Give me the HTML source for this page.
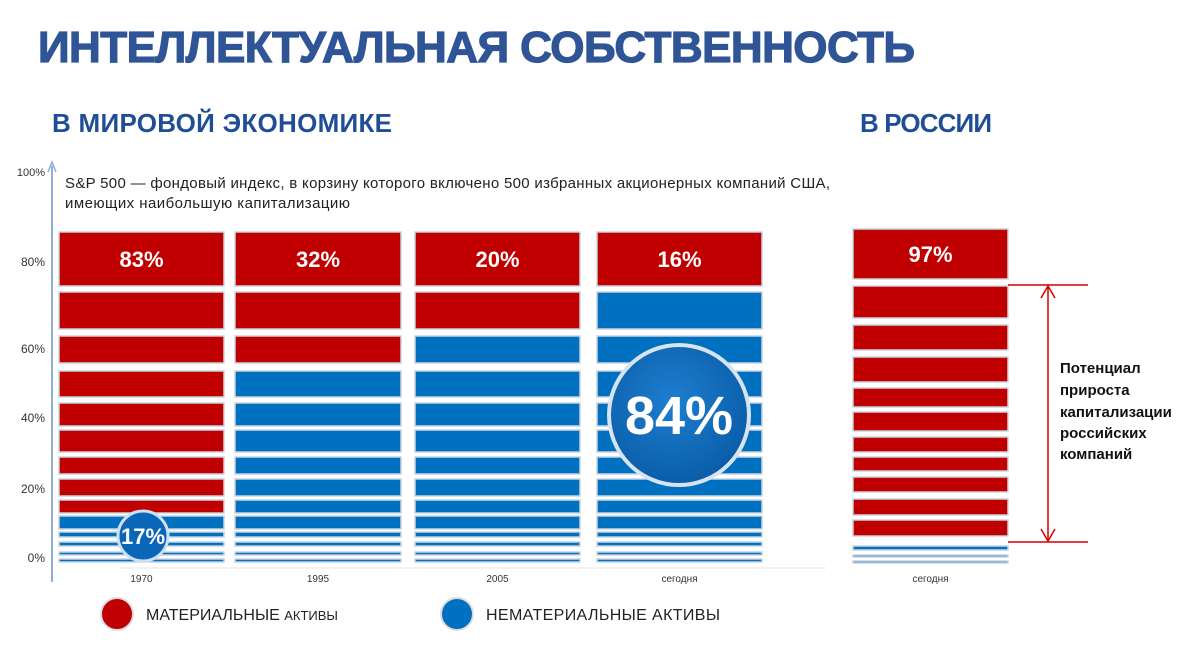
<!DOCTYPE html>
<html><head><meta charset="utf-8"><style>
body{margin:0;width:1200px;height:654px;background:#fff;overflow:hidden;font-family:"Liberation Sans","DejaVu Sans",sans-serif}
svg text{font-family:"Liberation Sans","DejaVu Sans",sans-serif}
</style></head><body>
<svg id="c" width="1200" height="654" xmlns="http://www.w3.org/2000/svg">
<defs>
<radialGradient id="bg84" cx="45%" cy="40%" r="60%"><stop offset="0" stop-color="#1e7fd0"/><stop offset="1" stop-color="#0a5da8"/></radialGradient>
</defs>
<text x="38" y="62" font-size="44" font-weight="bold" fill="#2f5597" stroke="#2f5597" stroke-width="1.2" letter-spacing="1" textLength="878">ИНТЕЛЛЕКТУАЛЬНАЯ СОБСТВЕННОСТЬ</text>
<text x="52" y="132" font-size="26" font-weight="bold" fill="#1f4e96" textLength="340">В МИРОВОЙ ЭКОНОМИКЕ</text>
<text x="860" y="132" font-size="26" font-weight="bold" fill="#1f4e96" textLength="132">В РОССИИ</text>
<text x="65" y="188" font-size="15" fill="#222" textLength="765">S&amp;P 500 — фондовый индекс, в корзину которого включено 500 избранных акционерных компаний США,</text>
<text x="65" y="208" font-size="15" fill="#222" textLength="285">имеющих наибольшую капитализацию</text>
<line x1="52" y1="166" x2="52" y2="582" stroke="#8eaed4" stroke-width="2"/>
<path d="M48,172 L52,162 L56,172" fill="none" stroke="#8eaed4" stroke-width="1.5"/>
<line x1="120" y1="568" x2="826" y2="568" stroke="#e6e6e6"/>
<g id="g"></g>
<line x1="1008" y1="285" x2="1088" y2="285" stroke="#d40000" stroke-width="1.5"/>
<line x1="1008" y1="542" x2="1088" y2="542" stroke="#d40000" stroke-width="1.5"/>
<line x1="1048" y1="286" x2="1048" y2="541" stroke="#d40000" stroke-width="1.5"/>
<path d="M1041,298 L1048,286 L1055,298 M1041,529 L1048,541 L1055,529" fill="none" stroke="#d40000" stroke-width="1.5"/>
<g font-size="15" font-weight="bold" fill="#111">
<text x="1060" y="373">Потенциал</text><text x="1060" y="395">прироста</text><text x="1060" y="417">капитализации</text><text x="1060" y="438">российских</text><text x="1060" y="459">компаний</text></g>
<circle cx="117" cy="614" r="16" fill="#c00000" stroke="#ddd" stroke-width="2"/>
<text x="146" y="620" font-size="16" fill="#222">МАТЕРИАЛЬНЫЕ <tspan font-size="13">АКТИВЫ</tspan></text>
<circle cx="457" cy="614" r="16" fill="#0070c0" stroke="#ddd" stroke-width="2"/>
<text x="486" y="620" font-size="16" fill="#222" textLength="234">НЕМАТЕРИАЛЬНЫЕ АКТИВЫ</text>
</svg>
<script>
const categories=["1970","1995","2005","сегодня","сегодня"];
const tangiblePct=[83,32,20,16,97];
const intangiblePct=[17,68,80,84,3];
const blueRows=[5,11,12,13,3];
const yTicks=["100%","80%","60%","40%","20%","0%"];
const NS="http://www.w3.org/2000/svg";
const g=document.getElementById('g');
function mk(t,a){const e=document.createElementNS(NS,t);for(const k in a)e.setAttribute(k,a[k]);g.appendChild(e);return e;}
const tickY=[172,262,349,418,489,558];
yTicks.forEach((t,i)=>{const e=mk('text',{x:45,y:tickY[i]+4,'font-size':i==0?11:12,'text-anchor':'end',fill:'#333'});e.textContent=t;

});
const worldRows=[[232,286],[292,329],[336,363],[371,397],[403,426],[430,452],[457,474],[479,496],[500,513],[516,529],[532,537],[542,546],[552,555],[559,562]];
const rusRows=[[229,279],[286,318],[325,350],[357,382],[388,407],[412,431],[437,452],[457,471],[477,492],[499,515],[520,536],[546,550],[555,557],[561,563]];
const colX=[[59,224],[235,401],[415,580],[597,762],[853,1008]];
categories.forEach((c,ci)=>{
  const rows=ci<4?worldRows:rusRows;
  const [x0,x1]=colX[ci];
  const nb=blueRows[ci];
  rows.forEach((r,ri)=>{
    const blue=ri>=rows.length-nb;
    const e=mk('rect',{x:x0,y:r[0],width:x1-x0,height:r[1]-r[0],fill:blue?'#0070c0':'#c00000',stroke:'#c9d3e0','stroke-width':1.5});
    
    
  });
  const lt=mk('text',{x:(x0+x1)/2,y:(rows[0][0]+rows[0][1])/2+8,'font-size':22,'font-weight':'bold',fill:'#fff','text-anchor':'middle'});
  lt.textContent=tangiblePct[ci]+'%';
  
  
  const cl=mk('text',{x:(x0+x1)/2,y:582,'font-size':10,fill:'#333','text-anchor':'middle'});
  cl.textContent=c;
  
  
});
const c1=mk('circle',{cx:143,cy:536,r:25,fill:'#0a66b8',stroke:'#cfe0f2','stroke-width':3});


const t1=mk('text',{x:143,y:544,'font-size':22,'font-weight':'bold',fill:'#fff','text-anchor':'middle'});
t1.textContent=intangiblePct[0]+'%';


const c2=mk('circle',{cx:679,cy:415,r:70,fill:'url(#bg84)',stroke:'#d6e4f2','stroke-width':4});


const t2=mk('text',{x:679,y:434,'font-size':54,'font-weight':'bold',fill:'#fff','text-anchor':'middle'});
t2.textContent=intangiblePct[3]+'%';


</script>
</body></html>
